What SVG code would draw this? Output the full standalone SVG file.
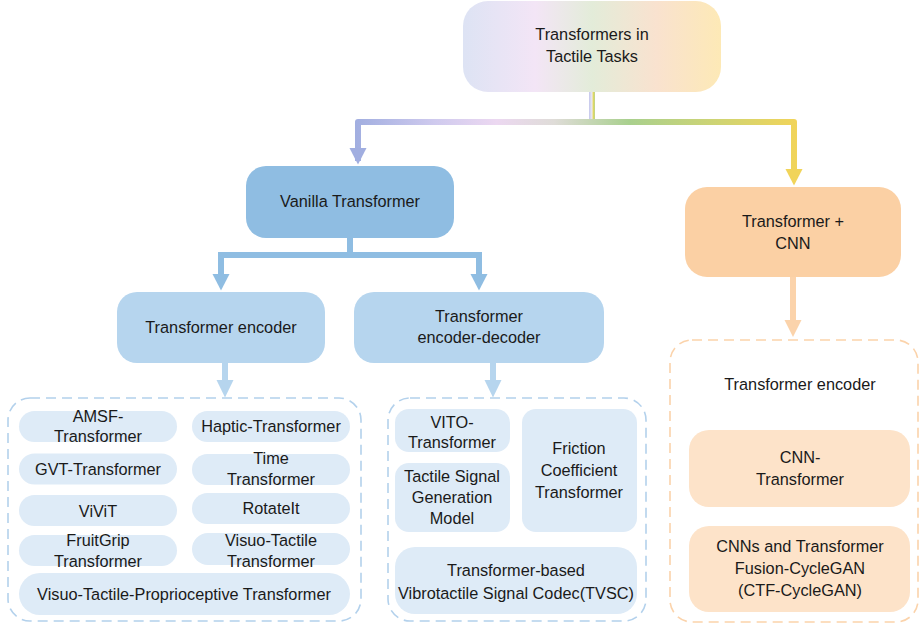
<svg xmlns="http://www.w3.org/2000/svg" width="921" height="624" viewBox="0 0 921 624">
<defs>
<linearGradient id="gTop" x1="0" y1="0" x2="1" y2="0">
<stop offset="0" stop-color="#dde3f4"/>
<stop offset="0.28" stop-color="#f3e5f6"/>
<stop offset="0.5" stop-color="#e3ecd9"/>
<stop offset="0.75" stop-color="#f9e2cf"/>
<stop offset="1" stop-color="#fde9b6"/>
</linearGradient>
<linearGradient id="gBar" gradientUnits="userSpaceOnUse" x1="355" y1="0" x2="797" y2="0">
<stop offset="0" stop-color="#a1aee0"/>
<stop offset="0.18" stop-color="#cfcaee"/>
<stop offset="0.32" stop-color="#ecd8f1"/>
<stop offset="0.45" stop-color="#dfdcd8"/>
<stop offset="0.62" stop-color="#a9d08e"/>
<stop offset="0.82" stop-color="#cfd473"/>
<stop offset="1" stop-color="#f1d45a"/>
</linearGradient>
<linearGradient id="gStem" gradientUnits="userSpaceOnUse" x1="589" y1="0" x2="595" y2="0">
<stop offset="0" stop-color="#c3c6ec"/>
<stop offset="0.5" stop-color="#eceaf4"/>
<stop offset="0.7" stop-color="#e6d95c"/>
<stop offset="1" stop-color="#b9d48e"/>
</linearGradient>
<style>
text{font-family:"Liberation Sans",Arial,sans-serif;font-size:16.3px;fill:#1a1a1a;text-anchor:middle}
.pill{fill:#deebf7}
.mid{fill:#b6d5ee}
.van{fill:#8fbde2}
.dashB{fill:none;stroke:#b3d1ec;stroke-width:1.6;stroke-dasharray:10 6}
.dashO{fill:none;stroke:#fbd3ab;stroke-width:1.6;stroke-dasharray:10 6}
.orng{fill:#fbd0a4}
.orngL{fill:#fde3c9}
</style>
</defs>

<g id="connectors">
<rect x="589" y="92" width="6" height="29" fill="url(#gStem)"/>
<path d="M358 161 V122 H794 V178" fill="none" stroke="url(#gBar)" stroke-width="6" stroke-linejoin="round"/>
<polygon points="349.5,148 366.5,148 358,164.5" fill="#a1aee0"/>
<polygon points="785.5,169 802.5,169 794,185.5" fill="#f1d45a"/>
<path d="M350 238 V255 M221 281 V255 H479 V281" fill="none" stroke="#8fbde2" stroke-width="6"/>
<polygon points="212.5,274 229.5,274 221,290.5" fill="#8fbde2"/>
<polygon points="470.5,274 487.5,274 479,290.5" fill="#8fbde2"/>
<path d="M225 363 V388 M493 363 V388" fill="none" stroke="#b6d5ee" stroke-width="6"/>
<polygon points="216.5,380 233.5,380 225,397.5" fill="#b6d5ee"/>
<polygon points="484.5,380 501.5,380 493,397.5" fill="#b6d5ee"/>
<path d="M793 277 V328" fill="none" stroke="#fbd3ab" stroke-width="6"/>
<polygon points="784.5,320 801.5,320 793,337" fill="#fbd3ab"/>
</g>

<g id="root">
<rect x="463" y="1" width="258" height="91" rx="25" fill="url(#gTop)"/>
<text x="592" y="40">Transformers in</text>
<text x="592" y="62">Tactile Tasks</text>
</g>

<g id="vanilla">
<rect x="246" y="166" width="208" height="72" rx="20" class="van"/>
<text x="350" y="207">Vanilla Transformer</text>
</g>

<g id="hybrid">
<rect x="685" y="187" width="216" height="90" rx="22" class="orng"/>
<text x="793" y="227">Transformer +</text>
<text x="793" y="249">CNN</text>
</g>

<g id="encoder">
<rect x="117" y="292" width="208" height="71" rx="20" class="mid"/>
<text x="221" y="333">Transformer encoder</text>
</g>

<g id="encdec">
<rect x="354" y="292" width="250" height="71" rx="20" class="mid"/>
<text x="479" y="322">Transformer</text>
<text x="479" y="343">encoder-decoder</text>
</g>

<g id="encoder-group">
<rect x="8" y="398" width="353" height="223" rx="22" class="dashB"/>
</g>
<g id="amsf"><rect x="19" y="411" width="158" height="31" rx="15.5" class="pill"/><text x="98" y="421.5">AMSF-</text><text x="98" y="442">Transformer</text></g>
<g id="haptic"><rect x="192" y="411" width="158" height="31" rx="15.5" class="pill"/><text x="271" y="432">Haptic-Transformer</text></g>
<g id="gvt"><rect x="19" y="453.5" width="158" height="31" rx="15.5" class="pill"/><text x="98" y="475">GVT-Transformer</text></g>
<g id="time"><rect x="192" y="454" width="158" height="31" rx="15.5" class="pill"/><text x="271" y="464">Time</text><text x="271" y="485">Transformer</text></g>
<g id="vivit"><rect x="19" y="495" width="158" height="31" rx="15.5" class="pill"/><text x="98" y="516.5">ViViT</text></g>
<g id="rotateit"><rect x="192" y="493" width="158" height="31" rx="15.5" class="pill"/><text x="271" y="514">RotateIt</text></g>
<g id="fruitgrip"><rect x="19" y="535" width="158" height="31" rx="15.5" class="pill"/><text x="98" y="545.5">FruitGrip</text><text x="98" y="566.5">Transformer</text></g>
<g id="visuotactile"><rect x="192" y="533" width="158" height="32" rx="16" class="pill"/><text x="271" y="545.5">Visuo-Tactile</text><text x="271" y="566.5">Transformer</text></g>
<g id="vtp"><rect x="19" y="573" width="331" height="42" rx="21" class="pill"/><text x="184" y="600">Visuo-Tactile-Proprioceptive Transformer</text></g>

<g id="encdec-group">
<rect x="388" y="398" width="258" height="223" rx="22" class="dashB"/>
</g>
<g id="vito"><rect x="395" y="409" width="115" height="43" rx="14" class="pill"/><text x="452" y="427.5">VITO-</text><text x="452" y="448">Transformer</text></g>
<g id="tsgm"><rect x="395" y="463" width="115" height="69" rx="14" class="pill"/><text x="452" y="482">Tactile Signal</text><text x="452" y="503">Generation</text><text x="452" y="524">Model</text></g>
<g id="friction"><rect x="522" y="409" width="115" height="123" rx="14" class="pill"/><text x="579" y="454">Friction</text><text x="579" y="476">Coefficient</text><text x="579" y="497.5">Transformer</text></g>
<g id="tvsc"><rect x="395" y="547" width="242" height="67" rx="20" class="pill"/><text x="516" y="576">Transformer-based</text><text x="516" y="598.5">Vibrotactile Signal Codec(TVSC)</text></g>

<g id="hybrid-group">
<rect x="670" y="340" width="248" height="282" rx="22" class="dashO"/>
<text x="800" y="390">Transformer encoder</text>
</g>
<g id="cnntransformer"><rect x="689" y="430" width="221" height="77" rx="20" class="orngL"/><text x="800" y="463">CNN-</text><text x="800" y="485">Transformer</text></g>
<g id="ctfcyclegan"><rect x="689" y="526" width="221" height="86" rx="20" class="orngL"/><text x="800" y="551.5">CNNs and Transformer</text><text x="800" y="574">Fusion-CycleGAN</text><text x="800" y="595.5">(CTF-CycleGAN)</text></g>
</svg>
